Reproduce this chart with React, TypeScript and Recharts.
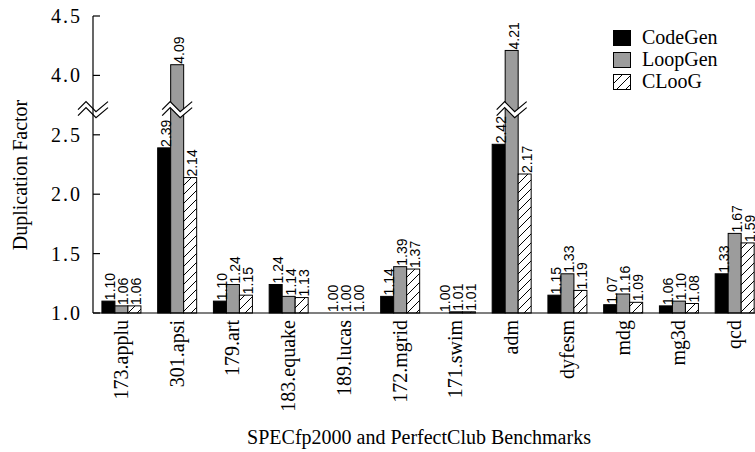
import React from 'react';
import { Bar, BarChart, LabelList, Legend, XAxis, YAxis } from 'recharts';

// benchmark names, left to right
const benchmarks = [
  '173.applu', '301.apsi', '179.art', '183.equake', '189.lucas', '172.mgrid',
  '171.swim', 'adm', 'dyfesm', 'mdg', 'mg3d', 'qcd',
];

// duplication factor per tool
const seriesNames = ['CodeGen', 'LoopGen', 'CLooG'];
const codeGen = [1.10, 2.39, 1.10, 1.24, 1.00, 1.14, 1.00, 2.42, 1.15, 1.07, 1.06, 1.33];
const loopGen = [1.06, 4.09, 1.24, 1.14, 1.00, 1.39, 1.01, 4.21, 1.33, 1.16, 1.10, 1.67];
const cloog = [1.06, 2.14, 1.15, 1.13, 1.00, 1.37, 1.01, 2.17, 1.19, 1.09, 1.08, 1.59];

const yTicks = [1.0, 1.5, 2.0, 2.5, 4.0, 4.5];

// broken axis: everything between 2.5 and 4.0 is squeezed into 0.5 units
const BREAK_LOW = 2.5;
const BREAK_HIGH = 4.0;
const BREAK_GAP = 0.5;
const BREAK_MARK = 2.72;
const SHIFT = BREAK_HIGH - BREAK_LOW - BREAK_GAP;

const squash = (v: number) => (v >= BREAK_HIGH ? v - SHIFT : v);
const unsquash = (v: number) => (v > BREAK_LOW ? v + SHIFT : v);

const SERIF = '"Liberation Serif", "Times New Roman", serif';
const SANS = '"Liberation Sans", Arial, sans-serif';

const data = benchmarks.map((name, i) => ({
  name,
  codeGen: squash(codeGen[i]),
  codeGenRaw: codeGen[i].toFixed(2),
  loopGen: squash(loopGen[i]),
  loopGenRaw: loopGen[i].toFixed(2),
  cloog: squash(cloog[i]),
  cloogRaw: cloog[i].toFixed(2),
}));

const tickValues = [...yTicks.map(squash), BREAK_MARK].sort((a, b) => a - b);

// the little double zigzag used for the axis break
const BreakGlyph = ({ cx, cy, gap }: { cx: number; cy: number; gap: boolean }) => {
  const z = [[-15, 4], [-7, -4], [3, 6], [15, -4]];
  const line = (dy: number) => z.map(([px, py]) => `${cx + px},${cy + py + dy}`).join(' ');
  const band = [...z.map(([px, py]) => `${cx + px},${cy + py - 3}`), ...z.slice().reverse().map(([px, py]) => `${cx + px},${cy + py + 3}`)].join(' ');
  return (
    <g>
      {gap && <polygon points={band} fill='#fff' stroke='none' />}
      <polyline points={line(-3)} fill='none' stroke='#000' strokeWidth={1.2} />
      <polyline points={line(3)} fill='none' stroke='#000' strokeWidth={1.2} />
    </g>
  );
};

const makeBarShape = (key: string) => (props: any) => {
  const { x, y, width, height, fill, payload } = props;
  if (!height || height <= 0) return <g />;
  const tv = payload[key];
  const base = y + height;
  const ppu = height / (tv - 1);
  const showBreak = tv > BREAK_MARK + 0.1;
  return (
    <g>
      <rect x={x} y={y} width={width} height={height} fill={fill} stroke='#000' strokeWidth={1} />
      {showBreak && <BreakGlyph cx={x + width / 2} cy={base - (BREAK_MARK - 1) * ppu} gap />}
    </g>
  );
};

const ValueLabel = (props: any) => {
  const vb = props.viewBox && props.viewBox.width !== undefined ? props.viewBox : props;
  const cx = vb.x + vb.width / 2 + 2;
  const top = Math.min(vb.y, vb.y + vb.height) - 1;
  return (
    <text
      x={cx}
      y={top}
      transform={`rotate(-90 ${cx} ${top})`}
      textAnchor='start'
      dominantBaseline='central'
      fontFamily={SANS}
      fontSize={14}
      fill='#000'
    >
      {props.value}
    </text>
  );
};

const YTick = (props: any) => {
  const { x, y, payload } = props;
  const axisX = x + 11;
  if (Math.abs(payload.value - BREAK_MARK) < 1e-6) {
    return <BreakGlyph cx={axisX} cy={y} gap={false} />;
  }
  return (
    <g>
      <line x1={axisX} y1={y} x2={axisX + 7} y2={y} stroke='#000' strokeWidth={1.2} />
      <text x={x} y={y} dy='0.35em' textAnchor='end' fontFamily={SERIF} fontSize={20} letterSpacing={2} fill='#000'>
        {unsquash(payload.value).toFixed(1)}
      </text>
    </g>
  );
};

const XTick = (props: any) => {
  const { x, y, payload } = props;
  const ty = y + 7;
  return (
    <text
      x={x}
      y={ty}
      dy='0.35em'
      transform={`rotate(-90 ${x} ${ty})`}
      textAnchor='end'
      fontFamily={SERIF}
      fontSize={20}
      fill='#000'
    >
      {payload.value}
    </text>
  );
};

const renderLegend = (props: any) => {
  const items = (props.payload || [])
    .slice()
    .sort((a: any, b: any) => seriesNames.indexOf(a.value) - seriesNames.indexOf(b.value));
  return (
    <svg width={140} height={70}>
      {items.map((item: any, i: number) => (
        <g key={item.value}>
          <rect x={0.5} y={i * 22 + 0.5} width={17} height={15} fill={item.color} stroke='#000' />
          <text x={29} y={i * 22 + 14} fontFamily={SERIF} fontSize={20} fill='#000'>
            {item.value}
          </text>
        </g>
      ))}
    </svg>
  );
};

export default function App() {
  return (
    <div
      style={{
        position: 'absolute',
        left: 0,
        top: 0,
        width: 755,
        height: 452,
        overflow: 'hidden',
        background: '#fff',
      }}
    >
      <BarChart
        width={775}
        height={452}
        data={data}
        margin={{ top: 16, right: 13, bottom: 0, left: 0 }}
        barCategoryGap='16%'
        barGap={0}
      >
        <defs>
          <pattern id='hatch' patternUnits='userSpaceOnUse' width={9} height={9}>
            <rect width={9} height={9} fill='#fff' />
            <path d='M-2,2 L2,-2 M0,9 L9,0 M7,11 L11,7' stroke='#000' strokeWidth={1} />
          </pattern>
        </defs>

        <XAxis
          dataKey='name'
          height={139}
          interval={0}
          tickLine={false}
          tickSize={0}
          tickMargin={0}
          axisLine={{ stroke: '#000', strokeWidth: 1.2 }}
          tick={<XTick />}
          label={{
            content: () => (
              <text x={419} y={444} textAnchor='middle' fontFamily={SERIF} fontSize={20} fill='#000'>
                SPECfp2000 and PerfectClub Benchmarks
              </text>
            ),
          }}
        />

        <YAxis
          type='number'
          width={93}
          domain={[1, 3.5]}
          ticks={tickValues}
          interval={0}
          tickLine={false}
          tickSize={0}
          tickMargin={11}
          axisLine={{ stroke: '#000', strokeWidth: 1.2 }}
          tick={<YTick />}
          label={{
            content: () => (
              <text
                x={20}
                y={175}
                transform='rotate(-90 20 175)'
                dy='0.35em'
                textAnchor='middle'
                fontFamily={SERIF}
                fontSize={20}
                fill='#000'
              >
                Duplication Factor
              </text>
            ),
          }}
        />

        <Legend
          layout='horizontal'
          verticalAlign='middle'
          align='center'
          content={renderLegend}
          wrapperStyle={{ left: 613, top: 30, width: 140, height: 70 }}
        />

        <Bar dataKey='codeGen' name='CodeGen' fill='#000' shape={makeBarShape('codeGen')} isAnimationActive={false}>
          <LabelList dataKey='codeGenRaw' content={ValueLabel} />
        </Bar>
        <Bar dataKey='loopGen' name='LoopGen' fill='#9c9c9c' shape={makeBarShape('loopGen')} isAnimationActive={false}>
          <LabelList dataKey='loopGenRaw' content={ValueLabel} />
        </Bar>
        <Bar dataKey='cloog' name='CLooG' fill='url(#hatch)' shape={makeBarShape('cloog')} isAnimationActive={false}>
          <LabelList dataKey='cloogRaw' content={ValueLabel} />
        </Bar>
      </BarChart>
    </div>
  );
}
